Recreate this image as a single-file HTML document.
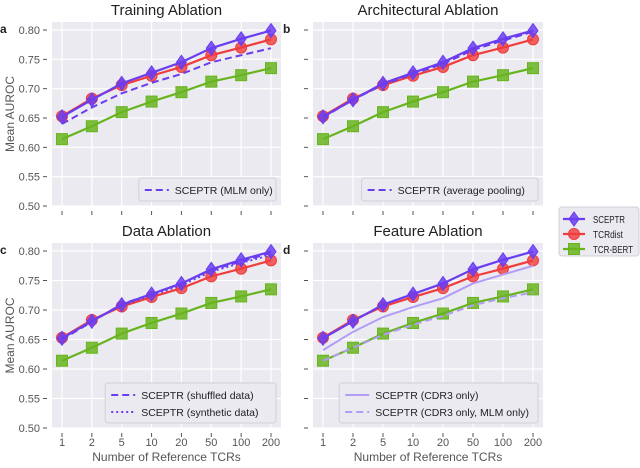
<!DOCTYPE html>
<html><head><meta charset="utf-8"><style>
body{margin:0;background:#fff;}
svg{font-family:"Liberation Sans",sans-serif;}
</style></head><body>
<svg id="fig" width="640" height="463" xmlns="http://www.w3.org/2000/svg"></svg>
<script>
const categories=["1","2","5","10","20","50","100","200"];
const yTicks=[0.50,0.55,0.60,0.65,0.70,0.75,0.80];
const sceptr=[0.652,0.681,0.709,0.727,0.745,0.769,0.785,0.799];
const tcrdist=[0.653,0.683,0.706,0.722,0.737,0.757,0.770,0.784];
const tcrbert=[0.614,0.636,0.660,0.678,0.694,0.712,0.723,0.735];
const mlmOnly=[0.640,0.668,0.692,0.710,0.725,0.745,0.757,0.769];
const avgPooling=[0.651,0.681,0.707,0.725,0.742,0.766,0.782,0.797];
const shuffled=[0.650,0.680,0.710,0.727,0.745,0.768,0.782,0.797];
const synthetic=[0.651,0.682,0.708,0.725,0.742,0.765,0.780,0.793];
const cdr3Only=[0.632,0.663,0.688,0.705,0.720,0.745,0.760,0.775];
const cdr3Mlm=[0.614,0.636,0.658,0.675,0.690,0.708,0.720,0.730];

const NS="http://www.w3.org/2000/svg";
const svg=document.getElementById('fig');
const PUR="#6a3df0",RED="#f03c3c",GRN="#68b41e",LPUR="#b39cf6";
function el(t,a,p){const e=document.createElementNS(NS,t);for(const k in a)e.setAttribute(k,a[k]);(p||svg).appendChild(e);return e;}
function txt(s,a,p){const e=el('text',a,p);e.textContent=s;return e;}

const panels=[
 {id:'a',title:'Training Ablation',x0:52,x1:281,y0:22,y1:206,left:true,bottom:false,
  extra:[{d:mlmOnly,c:PUR,dash:'7,4',w:2,label:'SCEPTR (MLM only)'}]},
 {id:'b',title:'Architectural Ablation',x0:313,x1:543,y0:22,y1:206,left:false,bottom:false,
  extra:[{d:avgPooling,c:PUR,dash:'7,4',w:2,label:'SCEPTR (average pooling)'}]},
 {id:'c',title:'Data Ablation',x0:52,x1:281,y0:243,y1:428,left:true,bottom:true,
  extra:[{d:shuffled,c:PUR,dash:'7,4',w:2,label:'SCEPTR (shuffled data)'},{d:synthetic,c:PUR,dash:'2,3',w:2,label:'SCEPTR (synthetic data)'}]},
 {id:'d',title:'Feature Ablation',x0:313,x1:543,y0:243,y1:428,left:false,bottom:true,
  extra:[{d:cdr3Only,c:LPUR,dash:'',w:2,label:'SCEPTR (CDR3 only)'},{d:cdr3Mlm,c:LPUR,dash:'7,4',w:2,label:'SCEPTR (CDR3 only, MLM only)'}]}
];

function diamond(g,x,y,c){el('path',{d:`M${x},${y-7} L${x+5},${y} L${x},${y+7} L${x-5},${y} Z`,fill:c,'fill-opacity':0.85,stroke:c,'stroke-width':1},g);}
function circle(g,x,y,c){el('circle',{cx:x,cy:y,r:5.5,fill:c,'fill-opacity':0.8,stroke:c,'stroke-width':1},g);}
function square(g,x,y,c){el('rect',{x:x-5.5,y:y-5.5,width:11,height:11,fill:c,'fill-opacity':0.85,stroke:c,'stroke-width':1},g);}

panels.forEach(p=>{
  const g=el('g',{});
  
  
  const pad=10;
  const xs=i=>p.x0+pad+i*(p.x1-p.x0-2*pad)/(categories.length-1);
  const ys=v=>p.y1-(v-0.5)/0.3*(p.y1-p.y0-8);
  el('rect',{x:p.x0,y:p.y0,width:p.x1-p.x0,height:p.y1-p.y0,fill:'#eaeaf0'},g);
  categories.forEach((c,i)=>{el('line',{x1:xs(i),x2:xs(i),y1:p.y0,y2:p.y1,stroke:'#fff','stroke-width':1.2},g);
    el('line',{x1:xs(i),x2:xs(i),y1:p.y1+5,y2:p.y1+9,stroke:'#555','stroke-width':1},g);
    if(p.bottom){const t=txt(c,{x:xs(i),y:p.y1+18,'font-size':11,fill:'#555','text-anchor':'middle'},g);}
  });
  yTicks.forEach(v=>{el('line',{x1:p.x0,x2:p.x1,y1:ys(v),y2:ys(v),stroke:'#fff','stroke-width':1.2},g);
    el('line',{x1:p.x0-9,x2:p.x0-5,y1:ys(v),y2:ys(v),stroke:'#555','stroke-width':1},g);
    if(p.left){const t=txt(v.toFixed(2),{x:p.x0-12,y:ys(v)+4,'font-size':11,fill:'#555','text-anchor':'end'},g);}
  });
  const tt=txt(p.title,{x:(p.x0+p.x1)/2,y:p.y0-7,'font-size':15,fill:'#222','text-anchor':'middle'},g);
  
  txt(p.id,{x:p.x0-(p.left?52:30),y:p.y0+11,'font-size':12,'font-weight':'bold',fill:'#222'},g);
  if(p.left){const yl=txt('Mean AUROC',{x:0,y:0,'font-size':12,fill:'#555','text-anchor':'middle',transform:`translate(${p.x0-38},${(p.y0+p.y1)/2}) rotate(-90)`},g);}
  if(p.bottom){const xl=txt('Number of Reference TCRs',{x:(p.x0+p.x1)/2,y:p.y1+33,'font-size':12,fill:'#555','text-anchor':'middle'},g);}
  const line=(d,c,w,dash)=>{const e=el('polyline',{points:d.map((v,i)=>xs(i)+','+ys(v)).join(' '),fill:'none',stroke:c,'stroke-width':w,'stroke-dasharray':dash},g);return e;};
  const ml=[[tcrbert,GRN,square,'tcr-bert'],[tcrdist,RED,circle,'tcrdist'],[sceptr,PUR,diamond,'sceptr']];
  ml.forEach(([d,c,m,n])=>{const l=line(d,c,2.2,'');d.forEach((v,i)=>m(g,xs(i),ys(v),c));});
  p.extra.forEach(e=>{const l=line(e.d,e.c,e.w,e.dash);});
  const lw=p.extra.reduce((m,e)=>Math.max(m,e.label.length),0)*5.6+42;
  const lh=p.extra.length*17+6;
  const lx=p.x1-lw-5,ly=p.y1-lh-5;
  const lg=el('g',{},g);
  
  el('rect',{x:lx,y:ly,width:lw,height:lh,fill:'#eaeaf0',stroke:'#d0d0d8',rx:3},lg);
  p.extra.forEach((e,k)=>{const yy=ly+12+k*17;
    el('line',{x1:lx+6,x2:lx+30,y1:yy,y2:yy,stroke:e.c,'stroke-width':2,'stroke-dasharray':e.dash},lg);
    txt(e.label,{x:lx+36,y:yy+4,'font-size':10.5,fill:'#222'},lg);});
});
const L=el('g',{});

el('rect',{x:559,y:207,width:80,height:49,fill:'#eaeaf0',stroke:'#d0d0d8',rx:3},L);
[['SCEPTR',PUR,diamond,32],['TCRdist',RED,circle,30],['TCR-BERT',GRN,square,40]].forEach(([n,c,m,w],k)=>{
  const yy=219+k*15;
  el('line',{x1:563,x2:585,y1:yy,y2:yy,stroke:c,'stroke-width':2.2},L);
  m(L,574,yy,c);
  const t=txt(n,{x:593,y:yy+4,'font-size':10,fill:'#222',textLength:w,lengthAdjust:'spacingAndGlyphs'},L);
  
});
</script>
</body></html>
